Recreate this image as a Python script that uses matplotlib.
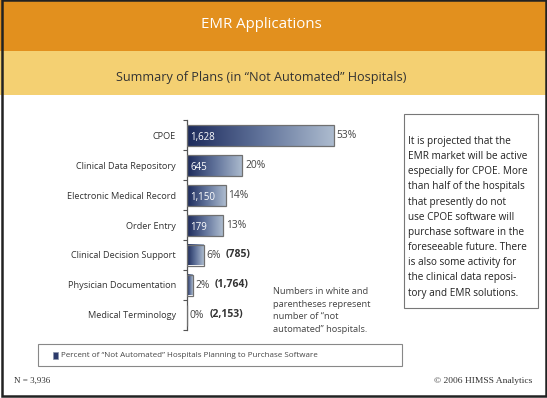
import numpy as np
import matplotlib
matplotlib.use("Agg")
import matplotlib.pyplot as plt
from matplotlib.patches import Rectangle
from matplotlib.colors import LinearSegmentedColormap

categories = [
    "CPOE",
    "Clinical Data Repository",
    "Electronic Medical Record",
    "Order Entry",
    "Clinical Decision Support",
    "Physician Documentation",
    "Medical Terminology",
]
percent_planning = [53, 20, 14, 13, 6, 2, 0]
not_automated = [1628, 645, 1150, 179, 785, 1764, 2153]
count_inside = [True, True, True, True, False, False, False]

title = "EMR Applications"
subtitle = "Summary of Plans (in \u201cNot Automated\u201d Hospitals)"
side_note = ("It is projected that the\nEMR market will be active\nespecially for CPOE. More\n"
             "than half of the hospitals\nthat presently do not\nuse CPOE software will\n"
             "purchase software in the\nforeseeable future. There\nis also some activity for\n"
             "the clinical data reposi-\ntory and EMR solutions.")
white_note = ("Numbers in white and\nparentheses represent\nnumber of \u201cnot\n"
              "automated\u201d hospitals.")
legend_label = "Percent of \u201cNot Automated\u201d Hospitals Planning to Purchase Software"

plt.rcParams["font.family"] = ["Open Sans", "DejaVu Sans"]

W, H = 547, 398
fig = plt.figure(figsize=(W / 100, H / 100), dpi=100)
fig.patch.set_facecolor("white")


def fx(px):
    return px / W


def fy(py):
    return 1 - py / H


# header bands
fig.patches.append(Rectangle((0, fy(51)), 1, 51 / H, transform=fig.transFigure,
                             facecolor="#e2901e", edgecolor="none", zorder=0))
fig.patches.append(Rectangle((0, fy(95)), 1, 44 / H, transform=fig.transFigure,
                             facecolor="#f4d072", edgecolor="none", zorder=0))
# outer frame
fig.patches.append(Rectangle((fx(1.5), fy(395.5)), fx(544), 396 / H, transform=fig.transFigure,
                             facecolor="none", edgecolor="#222222", linewidth=1.8, zorder=5))

fig.text(fx(261), fy(24), title, color="white", fontsize=10.8, ha="center", va="center")
fig.text(fx(261), fy(78), subtitle, color="#333333", fontsize=9.1, ha="center", va="center")

# bar axes
ax = fig.add_axes([fx(187), fy(330), fx(166), 210 / H])
ax.set_facecolor("none")
cmap = LinearSegmentedColormap.from_list("bar", ["#1c2a5b", "#60729a", "#adbccf"])
grad = np.linspace(0, 1, 256).reshape(1, -1)
bh = 0.7
for i, (p, n, inside) in enumerate(zip(percent_planning, not_automated, count_inside)):
    if p > 0:
        ax.imshow(grad, cmap=cmap, aspect="auto", extent=(0, p, i + bh / 2, i - bh / 2),
                  interpolation="bilinear", zorder=2)
    ax.barh(i, p, height=bh, facecolor="none", edgecolor="#707070", linewidth=0.9, zorder=3)
    ax.annotate(f"{p}%", (p, i), xytext=(2, 0), textcoords="offset points",
                fontsize=7.4, color="#444444", ha="left", va="center")
    if inside:
        ax.annotate(f"{n:,}", (0, i), xytext=(2.5, -1.5), textcoords="offset points",
                    fontsize=7, color="white", ha="left", va="center", zorder=4)
    else:
        ax.annotate(f"({n:,})", (p, i), xytext=(16, 0), textcoords="offset points",
                    fontsize=7.5, color="#333333", fontweight="bold", ha="left", va="center")

ax.set_xlim(0, 60)
ax.set_ylim(len(categories) - 0.5, -0.5)
ax.set_yticks(np.arange(len(categories) + 1) - 0.5)
ax.set_yticklabels([])
ax.tick_params(axis="y", which="major", length=3, width=0.8, color="#555555", direction="out")
ax.set_yticks(np.arange(len(categories)), minor=True)
ax.set_yticklabels(categories, minor=True, fontsize=6.6, color="#333333")
ax.tick_params(axis="y", which="minor", length=0, pad=8)
ax.set_xticks([])
for s in ["top", "right", "bottom"]:
    ax.spines[s].set_visible(False)
ax.spines["left"].set_color("#555555")
ax.spines["left"].set_linewidth(0.9)

# side box
fig.patches.append(Rectangle((fx(404), fy(308)), fx(134), 194 / H, transform=fig.transFigure,
                             facecolor="white", edgecolor="#777777", linewidth=0.8, zorder=1))
fig.text(fx(408), fy(136), side_note, fontsize=7.2, color="#222222", ha="left", va="top",
         linespacing=1.52, zorder=2)

fig.text(fx(273), fy(287), white_note, fontsize=6.7, color="#444444", ha="left", va="top",
         linespacing=1.52)

# legend box
fig.patches.append(Rectangle((fx(38), fy(366)), fx(364), 22 / H, transform=fig.transFigure,
                             facecolor="white", edgecolor="#888888", linewidth=0.8, zorder=1))
fig.patches.append(Rectangle((fx(53), fy(358.5)), fx(4.5), 6.5 / H, transform=fig.transFigure,
                             facecolor="#2c3a6b", edgecolor="#8a94aa", linewidth=0.5, zorder=2))
fig.text(fx(61), fy(355.5), legend_label, fontsize=5.8, color="#444444",
         ha="left", va="center", zorder=2)

fig.text(fx(14), fy(381), "N = 3,936", fontsize=6.5, family="Liberation Serif",
         color="#333333", ha="left", va="center")
fig.text(fx(532), fy(381), "\u00a9 2006 HIMSS Analytics", fontsize=6.8, family="Liberation Serif",
         color="#333333", ha="right", va="center")

fig.savefig("out.png", dpi=100)
